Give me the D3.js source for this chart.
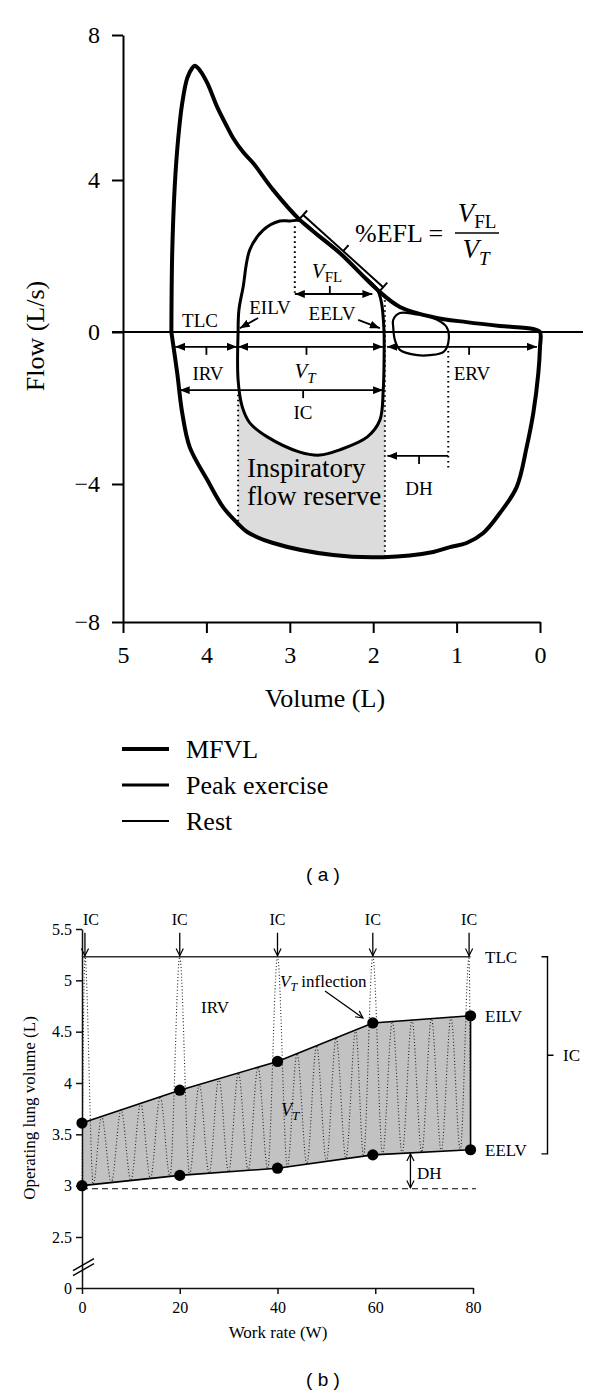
<!DOCTYPE html>
<html>
<head>
<meta charset="utf-8">
<script src="https://cdn.jsdelivr.net/npm/d3@7/dist/d3.min.js"></script>
<style>
  body { margin: 0; background: #fff; }
  svg { display: block; }
  text { fill: #000; }
</style>
</head>
<body>
<script>
// ---- panel (a): flow-volume loops (volume L, flow L/s) ----
var mfvlVol  = [4.42,4.41,4.38,4.34,4.29,4.23,4.17,4.14,4.08,3.99,3.87,3.75,3.68,3.56,3.44,3.20,2.88,2.40,1.95,1.68,1.28,0.88,0.48,0.08,0,
                0,0.02,0.08,0.16,0.28,0.48,0.68,0.88,1.08,1.28,1.88,2.48,3.20,3.51,3.63,3.80,3.99,4.20,4.29,4.35,4.42];
var mfvlFlow = [0,2.08,3.82,5.10,6.12,6.81,7.09,7.15,7.03,6.68,6.01,5.46,5.16,4.77,4.47,3.74,2.95,2.08,1.11,0.66,0.39,0.26,0.16,0.08,0,
                -0.39,-1.08,-2.13,-3.03,-4.09,-4.84,-5.42,-5.71,-5.83,-5.97,-6.12,-6.06,-5.71,-5.39,-5.13,-4.67,-3.89,-3.03,-2.13,-1.08,0];
var peakVol  = [3.62,3.61,3.56,3.48,3.32,3.12,3.00,2.88,2.64,2.40,2.16,1.95,1.90,1.88,1.87,1.87,1.88,1.92,2.07,2.40,2.64,2.88,3.27,3.48,3.57,3.62,3.62];
var peakFlow = [0,0.58,1.18,2.16,2.68,2.92,2.92,2.93,2.50,2.08,1.56,1.11,0.76,0.37,0,-0.80,-1.53,-2.32,-2.76,-3.10,-3.24,-3.16,-2.76,-2.39,-1.97,-1.26,0];
var restVol  = [1.76,1.68,1.50,1.28,1.12,1.10,1.16,1.32,1.47,1.68,1.74,1.76];
var restFlow = [0.32,0.50,0.47,0.37,0.13,-0.29,-0.53,-0.61,-0.61,-0.47,-0.21,0.13];
var volTicks  = [5, 4, 3, 2, 1, 0];
var flowTicks = [-8, -4, 0, 4, 8];
var eilvRest = 3.62, eelvPeak = 1.86;   // edges of the inspiratory flow reserve
var legendNames = ["MFVL", "Peak exercise", "Rest"];

// ---- panel (b): operating lung volumes vs work rate ----
var workRate = [0, 20, 40, 59.5, 79.5];
var eilv = [3.61, 3.93, 4.21, 4.585, 4.655];
var eelv = [3.00, 3.10, 3.17, 3.30, 3.35];
var tlcB = 5.23, restEELV = 2.97;
var icRates = [0.6, 20, 40, 59.5, 79.2];
var tidalPeaks = [4, 8, 12, 16, 24, 28, 32, 36, 44, 48, 52, 56, 63.5, 67.5, 71.5, 75.5];
var troughs = [0, 2.3, 6, 10, 14, 18, 22, 26, 30, 34, 38, 42, 46, 50, 54, 57.6, 61.5, 65.5, 69.5, 73.5, 77.4, 79.5];
var rateTicks = [0, 20, 40, 60, 80];
var lungTicks = [0, 2.5, 3, 3.5, 4, 4.5, 5, 5.5];

var SERIF = "'Liberation Serif', 'DejaVu Serif', serif";
var SANS = "'Liberation Sans', Arial, sans-serif";
var fmt = d3.format("~g");

var width = 600, height = 1396;
var svg = d3.select("body").append("svg")
    .attr("width", width)
    .attr("height", height);

var defs = svg.append("defs");
defs.append("marker")
    .attr("id", "headA")
    .attr("viewBox", "0 0 10 8")
    .attr("refX", 10).attr("refY", 4)
    .attr("markerWidth", 10).attr("markerHeight", 8)
    .attr("markerUnits", "userSpaceOnUse")
    .attr("orient", "auto-start-reverse")
  .append("path").attr("d", "M0,0L10,4L0,8Z").attr("fill", "#000");
defs.append("marker")
    .attr("id", "headB")
    .attr("viewBox", "0 0 10 10")
    .attr("refX", 9).attr("refY", 5)
    .attr("markerWidth", 9).attr("markerHeight", 9)
    .attr("markerUnits", "userSpaceOnUse")
    .attr("orient", "auto-start-reverse")
  .append("path").attr("d", "M1,1L9,5L1,9").attr("fill", "none")
    .attr("stroke", "#000").attr("stroke-width", 1.3);

// text with optional sub/italic parts
function richText(g, x, y, parts, anchor) {
  var t = g.append("text").attr("x", x).attr("y", y)
      .attr("text-anchor", anchor || "start");
  parts.forEach(function(p) {
    t.append("tspan")
      .attr("dy", p.dy || 0)
      .style("font-size", p.size + "px")
      .style("font-style", p.italic ? "italic" : "normal")
      .text(p.t);
  });
  return t;
}

/* ================= panel (a) ================= */
var xA = d3.scaleLinear().domain([5, 0]).range([123, 540]);
var yA = d3.scaleLinear().domain([-8, -4, 0, 4, 8]).range([622, 484, 332, 180, 35]);
var gA = svg.append("g");

var lineA = d3.line().x(function(d){ return xA(d[0]); }).y(function(d){ return yA(d[1]); });
var mfvl = d3.zip(mfvlVol, mfvlFlow);
var peak = d3.zip(peakVol, peakFlow);
var rest = d3.zip(restVol, restFlow);

// inspiratory flow reserve: strip under the peak loop, inside the MFVL
defs.append("clipPath").attr("id", "mfvlClip")
  .append("path").attr("d", lineA.curve(d3.curveCatmullRom)(mfvl));
gA.append("rect")
    .attr("x", xA(eilvRest)).attr("width", xA(eelvPeak) - xA(eilvRest))
    .attr("y", yA(0)).attr("height", yA(-8) - yA(0))
    .attr("fill", "#dcdcdc")
    .attr("clip-path", "url(#mfvlClip)");
gA.append("path")
    .attr("d", lineA.curve(d3.curveCatmullRom)(peak))
    .attr("fill", "#fff");

// axes
var axA = gA.append("g").attr("transform", "translate(0," + yA(-8) + ")")
    .call(d3.axisBottom(xA).tickValues(volTicks).tickFormat(fmt)
        .tickSize(11).tickSizeOuter(0).tickPadding(13));
var ayA = gA.append("g").attr("transform", "translate(" + xA(5) + ",0)")
    .call(d3.axisLeft(yA).tickValues(flowTicks).tickFormat(fmt)
        .tickSize(11).tickSizeOuter(0).tickPadding(12));
[axA, ayA].forEach(function(a) {
  a.selectAll("path,line").attr("stroke", "#000").attr("stroke-width", 2);
  a.selectAll("text").style("font-size", "24px");
});
gA.append("line")
    .attr("x1", xA(5) - 11).attr("x2", 583)
    .attr("y1", yA(0)).attr("y2", yA(0))
    .attr("stroke", "#000").attr("stroke-width", 2);

gA.append("text").attr("x", 325).attr("y", 707).attr("text-anchor", "middle")
    .style("font-size", "26px").text("Volume (L)");
gA.append("text").attr("transform", "translate(44,336) rotate(-90)").attr("text-anchor", "middle")
    .style("font-size", "26px").text("Flow (L/s)");

// dotted guides
var dotted = [
  [[eilvRest, -1.65], [eilvRest, -5.1]],
  [[eelvPeak, 0.97], [eelvPeak, -6.1]],
  [[2.94, 2.78], [2.94, 1.03]],
  [[1.10, -0.5], [1.10, -3.63]]
];
dotted.forEach(function(s) {
  gA.append("path").attr("d", lineA.curve(d3.curveLinear)(s))
    .attr("fill", "none").attr("stroke", "#000").attr("stroke-width", 2)
    .attr("stroke-dasharray", "1.6,3.4");
});

// loops
gA.append("path").attr("d", lineA.curve(d3.curveCatmullRomClosed)(rest))
    .attr("fill", "none").attr("stroke", "#000").attr("stroke-width", 2.2);
gA.append("path").attr("d", lineA.curve(d3.curveCatmullRom)(peak))
    .attr("fill", "none").attr("stroke", "#000").attr("stroke-width", 3);
gA.append("path").attr("d", lineA.curve(d3.curveCatmullRom)(mfvl))
    .attr("fill", "none").attr("stroke", "#000").attr("stroke-width", 4)
    .attr("stroke-linejoin", "round");

// dimension arrows: [from vol, to vol, flow, tick vol, tick dir, double]
var dims = [
  [2.94, 2.01, 1.0, 2.52, -1, true],
  [4.376, 3.633, -0.39, 4.0, 1, true],
  [3.621, 1.882, -0.39, 2.80, 1, true],
  [1.834, 0.036, -0.39, 0.85, 1, true],
  [4.32, 1.882, -1.53, 2.84, 1, true],
  [1.10, 1.83, -3.26, 1.45, 1, false]
];
dims.forEach(function(d) {
  var y = yA(d[2]);
  var l = gA.append("line")
      .attr("x1", xA(d[0])).attr("x2", xA(d[1]))
      .attr("y1", y).attr("y2", y)
      .attr("stroke", "#000").attr("stroke-width", 1.8)
      .attr("marker-end", "url(#headA)");
  if (d[5]) l.attr("marker-start", "url(#headA)");
  gA.append("line")
      .attr("x1", xA(d[3])).attr("x2", xA(d[3]))
      .attr("y1", y).attr("y2", y + 8 * d[4])
      .attr("stroke", "#000").attr("stroke-width", 1.8);
});
// pointers to EILV / EELV
[[[3.38, 0.37], [3.60, 0.10]], [[2.18, 0.32], [1.92, 0.10]]].forEach(function(p) {
  gA.append("line")
      .attr("x1", xA(p[0][0])).attr("y1", yA(p[0][1]))
      .attr("x2", xA(p[1][0])).attr("y2", yA(p[1][1]))
      .attr("stroke", "#000").attr("stroke-width", 1.8)
      .attr("marker-end", "url(#headA)");
});

// %EFL bracket along the flow-limited segment
(function() {
  var p1 = [xA(2.84), yA(3.08)], p2 = [xA(1.88), yA(1.18)];
  var dx = p2[0] - p1[0], dy = p2[1] - p1[1], len = Math.sqrt(dx * dx + dy * dy);
  var nx = dy / len, ny = -dx / len;   // normal pointing up-right
  var b = gA.append("g").attr("stroke", "#000").attr("stroke-width", 2);
  b.append("line").attr("x1", p1[0]).attr("y1", p1[1]).attr("x2", p2[0]).attr("y2", p2[1]);
  [p1, p2].forEach(function(p) {
    b.append("line").attr("x1", p[0] - 6 * nx).attr("y1", p[1] - 6 * ny)
        .attr("x2", p[0] + 6 * nx).attr("y2", p[1] + 6 * ny);
  });
  var m = [p1[0] + dx * 0.5, p1[1] + dy * 0.5];
  b.append("line").attr("x1", m[0]).attr("y1", m[1])
      .attr("x2", m[0] + 8 * nx).attr("y2", m[1] + 8 * ny);
})();

// labels in panel (a)
var lab = 19;
[["TLC", 200, 327], ["EILV", 270, 314], ["EELV", 332, 320], ["IRV", 208, 380],
 ["IC", 303, 419], ["ERV", 472, 380], ["DH", 419, 495]].forEach(function(t) {
  gA.append("text").attr("x", t[1]).attr("y", t[2]).attr("text-anchor", "middle")
      .style("font-size", lab + "px").text(t[0]);
});
richText(gA, 305, 378, [{t: "V", size: 21, italic: true}, {t: "T", size: 15, italic: true, dy: 5}], "middle");
richText(gA, 327, 278, [{t: "V", size: 21, italic: true}, {t: "FL", size: 15, dy: 4}], "middle");
gA.append("text").attr("x", 247).attr("y", 477).style("font-size", "27px").text("Inspiratory");
gA.append("text").attr("x", 247).attr("y", 505).style("font-size", "27px").text("flow reserve");

// formula
gA.append("text").attr("x", 355).attr("y", 242).style("font-size", "26px").text("%EFL =");
richText(gA, 477, 222, [{t: "V", size: 27, italic: true}, {t: "FL", size: 19, dy: 6}], "middle");
gA.append("line").attr("x1", 455).attr("x2", 499).attr("y1", 233).attr("y2", 233)
    .attr("stroke", "#000").attr("stroke-width", 1.5);
richText(gA, 476, 258, [{t: "V", size: 27, italic: true}, {t: "T", size: 19, italic: true, dy: 7}], "middle");

// legend
var legW = [4, 3, 2];
legendNames.forEach(function(n, i) {
  var y = 749 + i * 36;
  gA.append("line").attr("x1", 122).attr("x2", 169).attr("y1", y).attr("y2", y)
      .attr("stroke", "#000").attr("stroke-width", legW[i]);
  gA.append("text").attr("x", 186).attr("y", y + 9).style("font-size", "26px").text(n);
});

/* ================= panel (b) ================= */
var xB = d3.scaleLinear().domain([0, 80]).range([82, 473]);
var yB = d3.scaleLinear().domain([0, 2.5, 5.5]).range([1288, 1237, 929]);
var gB = svg.append("g");
var eilvAt = d3.scaleLinear().domain(workRate).range(eilv);
var eelvAt = d3.scaleLinear().domain(workRate).range(eelv);

// tidal volume band
gB.append("path")
    .datum(workRate)
    .attr("d", d3.area()
        .x(function(w){ return xB(w); })
        .y0(function(w, i){ return yB(eelv[i]); })
        .y1(function(w, i){ return yB(eilv[i]); }))
    .attr("fill", "#c2c2c2");

// breathing trace (tidal breaths + IC manoeuvres)
var turns = [];
troughs.forEach(function(w){ turns.push([w, eelvAt(w)]); });
tidalPeaks.forEach(function(w){ turns.push([w, eilvAt(w)]); });
icRates.forEach(function(w){ turns.push([w, tlcB]); });
turns.sort(function(a, b){ return a[0] - b[0]; });
gB.append("path")
    .attr("d", d3.line().x(function(d){ return xB(d[0]); }).y(function(d){ return yB(d[1]); })
        .curve(d3.curveMonotoneX)(turns))
    .attr("fill", "none").attr("stroke", "#222").attr("stroke-width", 1.1)
    .attr("stroke-dasharray", "1,2.2");

// TLC and resting EELV reference lines
gB.append("line").attr("x1", xB(0)).attr("x2", xB(79.5))
    .attr("y1", yB(tlcB)).attr("y2", yB(tlcB))
    .attr("stroke", "#333").attr("stroke-width", 1.5);
gB.append("line").attr("x1", xB(0)).attr("x2", xB(80.6))
    .attr("y1", yB(restEELV)).attr("y2", yB(restEELV))
    .attr("stroke", "#000").attr("stroke-width", 1.2).attr("stroke-dasharray", "6,4");

// axes
var axB = gB.append("g").attr("transform", "translate(0," + yB(0) + ")")
    .call(d3.axisBottom(xB).tickValues(rateTicks).tickFormat(fmt)
        .tickSize(6).tickSizeOuter(0).tickPadding(8));
var ayB = gB.append("g").attr("transform", "translate(" + xB(0) + ",0)")
    .call(d3.axisLeft(yB).tickValues(lungTicks).tickFormat(fmt)
        .tickSize(6).tickSizeOuter(0).tickPadding(4));
[axB, ayB].forEach(function(a) {
  a.selectAll("path,line").attr("stroke", "#111").attr("stroke-width", 1.5);
  a.selectAll("text").style("font-size", "16px");
});
// axis break
[0, 5].forEach(function(o) {
  gB.append("line")
      .attr("x1", xB(0) - 9).attr("y1", yB(1) + 8 - o)
      .attr("x2", xB(0) + 12).attr("y2", yB(1) - 4 - o)
      .attr("stroke", "#000").attr("stroke-width", 1.4);
});

// EILV / EELV lines, right edge, dots
var lineB = d3.line().x(function(d){ return xB(d[0]); }).y(function(d){ return yB(d[1]); });
[eilv, eelv].forEach(function(s) {
  gB.append("path").attr("d", lineB(d3.zip(workRate, s)))
      .attr("fill", "none").attr("stroke", "#000").attr("stroke-width", 1.6);
});
gB.append("line")
    .attr("x1", xB(workRate[4])).attr("x2", xB(workRate[4]))
    .attr("y1", yB(eelv[4])).attr("y2", yB(eilv[4]))
    .attr("stroke", "#000").attr("stroke-width", 1.6);
gB.selectAll("circle.dot")
    .data(d3.zip(workRate, eilv).concat(d3.zip(workRate, eelv)))
    .enter().append("circle")
    .attr("class", "dot")
    .attr("cx", function(d){ return xB(d[0]); })
    .attr("cy", function(d){ return yB(d[1]); })
    .attr("r", 5.6)
    .attr("fill", "#000");

// IC arrows and labels on top
icRates.forEach(function(w, i) {
  var x = xB(w);
  gB.append("line").attr("x1", x).attr("x2", x)
      .attr("y1", yB(tlcB) - 24).attr("y2", yB(tlcB) - 1)
      .attr("stroke", "#000").attr("stroke-width", 1.3)
      .attr("marker-end", "url(#headB)");
  gB.append("text")
      .attr("x", i === 0 ? xB(0) + 1 : x)
      .attr("y", 925)
      .attr("text-anchor", i === 0 ? "start" : "middle")
      .style("font-size", "16px").text("IC");
});

// right labels and IC bracket
var fsB = 17;
[["TLC", tlcB], ["EILV", eilv[4]], ["EELV", eelv[4]]].forEach(function(t) {
  gB.append("text").attr("x", 485).attr("y", yB(t[1]) + 6)
      .style("font-size", fsB + "px").text(t[0]);
});
var bTop = yB(tlcB), bBot = yB(3.31);
gB.append("path")
    .attr("d", "M541.5," + bTop + "H547.5V" + bBot + "H541.5M547.5," + ((bTop + bBot) / 2) + "H553.5")
    .attr("fill", "none").attr("stroke", "#000").attr("stroke-width", 1.4);
gB.append("text").attr("x", 563).attr("y", (bTop + bBot) / 2 + 6)
    .style("font-size", fsB + "px").text("IC");

gB.append("text").attr("x", 215).attr("y", 1013).attr("text-anchor", "middle")
    .style("font-size", fsB + "px").text("IRV");
richText(gB, 280, 987, [{t: "V", size: 17, italic: true}, {t: "T", size: 12, italic: true, dy: 4},
                        {t: " inflection", size: 17, dy: -4}]);
richText(gB, 290, 1116, [{t: "V", size: 18, italic: true}, {t: "T", size: 13, italic: true, dy: 4}], "middle");
gB.append("line").attr("x1", 325).attr("y1", 991).attr("x2", 363).attr("y2", 1018)
    .attr("stroke", "#000").attr("stroke-width", 1.3).attr("marker-end", "url(#headB)");

// DH double arrow
gB.append("line").attr("x1", xB(67.2)).attr("x2", xB(67.2))
    .attr("y1", yB(eelvAt(67.2)) + 1).attr("y2", yB(restEELV) - 1)
    .attr("stroke", "#000").attr("stroke-width", 1.3)
    .attr("marker-start", "url(#headB)").attr("marker-end", "url(#headB)");
gB.append("text").attr("x", 417).attr("y", 1179).style("font-size", fsB + "px").text("DH");

gB.append("text").attr("x", 278).attr("y", 1338).attr("text-anchor", "middle")
    .style("font-size", "17px").text("Work rate (W)");
gB.append("text").attr("transform", "translate(35,1108) rotate(-90)").attr("text-anchor", "middle")
    .style("font-size", "17px").text("Operating lung volume (L)");

// every chart text in serif; panel tags in sans
svg.selectAll("text").style("font-family", SERIF);

svg.append("text").attr("x", 323).attr("y", 881).attr("text-anchor", "middle")
    .style("font-family", SANS).style("font-size", "19px")
    .text("( a )");
svg.append("text").attr("x", 323).attr("y", 1386).attr("text-anchor", "middle")
    .style("font-family", SANS).style("font-size", "19px")
    .text("( b )");
</script>
</body>
</html>
